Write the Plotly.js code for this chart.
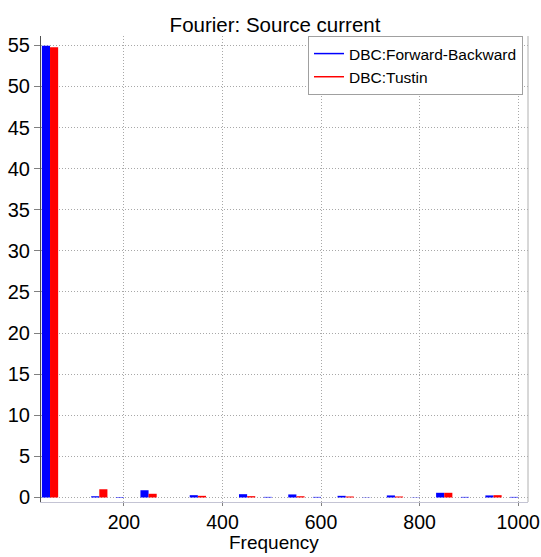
<!DOCTYPE html>
<html><head><meta charset="utf-8">
<script src="https://cdn.plot.ly/plotly-3.0.1.min.js"></script>
<style>html,body{margin:0;padding:0;background:#fff}#chart{width:541px;height:557px}</style>
</head><body><div id="chart"></div>
<script>
// Data
const frequencies = [50, 150, 200, 250, 350, 450, 500, 550, 600, 650, 700, 750, 800, 850, 900, 950, 1000];
const forwardBackward = [54.95, 0.15, 0.06, 0.88, 0.28, 0.40, 0.07, 0.37, 0.07, 0.20, 0.03, 0.25, 0.03, 0.57, 0.07, 0.25, 0.07];
const tustin = [54.75, 1.00, 0, 0.45, 0.20, 0.16, 0, 0.15, 0, 0.12, 0, 0.12, 0, 0.57, 0, 0.28, 0];
const seriesNames = ['DBC:Forward-Backward', 'DBC:Tustin'];
const seriesColors = ['#0000ff', '#ff0000'];
const xTickValues = [200, 400, 600, 800, 1000];
const yTickValues = [0, 5, 10, 15, 20, 25, 30, 35, 40, 45, 50, 55];
const chartTitle = 'Fourier: Source current';
const xTitle = 'Frequency';

const FONT = 'Liberation Sans, Arial, sans-serif';
const seriesValues = [forwardBackward, tustin];

const traces = [];
seriesValues.forEach((vals, i) => {
  traces.push({
    type: 'bar', x: frequencies, y: vals, name: seriesNames[i],
    marker: {color: seriesColors[i], line: {width: 0}},
    showlegend: false, hoverinfo: 'x+y'
  });
});
// legend proxies drawn as line samples
seriesNames.forEach((n, i) => {
  traces.push({
    type: 'scatter', mode: 'lines', x: [null], y: [null], name: n,
    line: {color: seriesColors[i], width: 1.5}, showlegend: true
  });
});

const layout = {
  width: 541, height: 557,
  margin: {l: 41, r: 13, t: 36, b: 55, pad: 0},
  paper_bgcolor: '#ffffff', plot_bgcolor: '#ffffff',
  font: {family: FONT, color: '#000000'},
  title: {text: chartTitle, font: {family: FONT, size: 20.5, color: '#000'},
          xref: 'container', x: 275/541, xanchor: 'center',
          yref: 'container', y: 1 - 25/557, yanchor: 'middle'},
  barmode: 'group', bargap: 0.34, bargroupgap: 0,
  xaxis: {
    range: [31.7, 1020], tickvals: xTickValues, ticktext: xTickValues.map(String),
    ticks: 'outside', ticklen: 3, tickcolor: '#808080', tickwidth: 1,
    tickfont: {family: FONT, size: 19.5, color: '#000'},
    showgrid: true, gridcolor: '#a8a8a8', griddash: '1px,2px', gridwidth: 1,
    zeroline: false, showline: true, linecolor: '#c4c4d4', linewidth: 1
  },
  yaxis: {
    range: [-0.55, 56.13], tickvals: yTickValues, ticktext: yTickValues.map(String),
    ticks: 'outside', ticklen: 6, tickcolor: '#808080', tickwidth: 1,
    tickfont: {family: FONT, size: 20, color: '#000'},
    showgrid: true, gridcolor: '#a8a8a8', griddash: '1px,2px', gridwidth: 1,
    zeroline: false, showline: true, linecolor: '#505050', linewidth: 1
  },
  annotations: [{text: xTitle, xref: 'paper', x: (274 - 41) / 487, xanchor: 'center',
                 yref: 'paper', y: (502 - 542) / 466, yanchor: 'middle', showarrow: false,
                 font: {family: FONT, size: 19, color: '#000'}}],
  shapes: [{type: 'line', xref: 'paper', yref: 'paper', x0: 1, x1: 1, y0: 0, y1: 1,
            line: {color: '#b0b0b0', width: 1}}],
  legend: {
    x: 0.9897, xanchor: 'right', y: 1, yanchor: 'top',
    bgcolor: '#ffffff', bordercolor: '#a0a0a0', borderwidth: 1,
    font: {family: FONT, size: 15.5, color: '#000'},
    itemwidth: 30, tracegroupgap: 0
  },
  showlegend: true
};

Plotly.newPlot('chart', traces, layout, {displayModeBar: false, staticPlot: true});
</script>
</body></html>
